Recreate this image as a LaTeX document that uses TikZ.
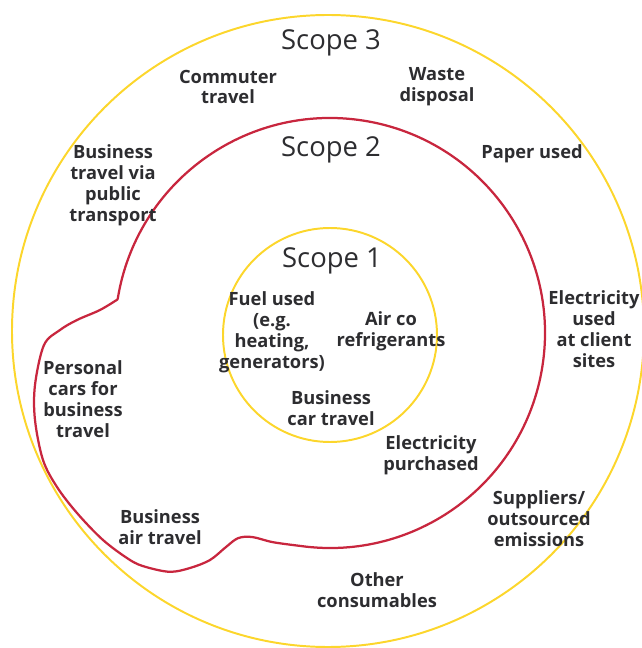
\documentclass[tikz,border=0pt]{standalone}
\usepackage{fontspec}
\setmainfont{Open Sans}
\definecolor{ringyellow}{RGB}{252,214,44}
\definecolor{ringred}{RGB}{200,38,62}
\definecolor{txtgray}{RGB}{45,45,48}

\begin{document}
\begin{tikzpicture}[
  ring/.style={color=ringyellow, line width=1.4pt},
  redring/.style={color=ringred, line width=1.6pt},
  scopelabel/.style={text=txtgray, font=\fontsize{19.5}{21}\selectfont},
  item/.style={text=txtgray, align=center, inner sep=0pt, font=\bfseries\fontsize{13}{14.9}\selectfont}]
\useasboundingbox (-8.25,-7.875) rectangle (7.775,8.325);
% rings
\draw[ring] (-0.05,0.05) circle [radius=7.9];
\draw[ring] (0,-0.05) circle [radius=2.675];
\draw[redring] (171:5.375) arc [start angle=171, end angle=-98, radius=5.375]
  plot[smooth, tension=0.55] coordinates {(-98:5.375) (-1.425,-5.23) (-1.95,-5.1) (-2.3,-5.13) (-2.6,-5.35) (-3.0,-5.675) (-3.5,-5.875) (-4.0,-5.97) (-4.6,-5.85) (-5.0,-5.675) (-5.675,-5.175) (-6.325,-4.5) (-6.825,-3.85) (-7.175,-3.175) (-7.375,-2.175) (-7.375,-1.3) (-7.15,-0.3) (-6.75,0.075) (-6.325,0.325) (-5.75,0.575) (171:5.375)};
% scope titles
\node[scopelabel] (sthree) at (0.025,7.25) {Scope 3};
\node[scopelabel] (stwo) at (0.025,4.575) {Scope 2};
\node[scopelabel] (sone) at (0.05,1.8) {Scope 1};
% scope 1
\node[item] (fuel) at (-1.45,0.025) {Fuel used\\(e.g.\\heating,\\generators)};
\node[item] (aircon) at (1.525,0.05) {Air co\\refrigerants};
\node[item] (bizcar) at (0.025,-1.875) {Business\\car travel};
% scope 2
\node[item] (elecbuy) at (2.525,-3.05) {Electricity\\purchased};
% scope 3
\node[item] (commute) at (-2.55,6.15) {Commuter\\travel};
\node[item] (waste) at (2.675,6.15) {Waste\\disposal};
\node[item] (paper) at (5.05,4.475) {Paper used};
\node[item] (pubtrans) at (-5.425,3.7) {Business\\travel via\\public\\transport};
\node[item] (elecclient) at (6.6,0.1) {Electricity\\used\\at client\\sites};
\node[item] (perscar) at (-6.175,-1.65) {Personal\\cars for\\business\\travel};
\node[item] (bizair) at (-4.25,-4.85) {Business\\air travel};
\node[item] (supplier) at (5.225,-4.65) {Suppliers/\\outsourced\\emissions};
\node[item] (consum) at (1.175,-6.425) {Other\\consumables};
\end{tikzpicture}
\end{document}
